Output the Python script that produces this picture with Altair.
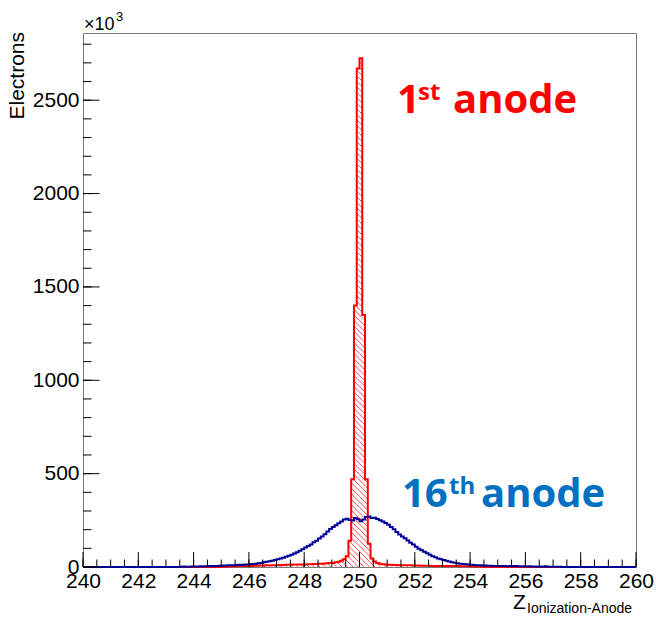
import math
import altair as alt
import pandas as pd

# ---------------- data ----------------
BIN_W = 0.1
X_MIN, X_MAX, Y_MAX = 240, 260, 2860

# 1st anode (red), bins of 0.1 starting at 244.9 (values in units of 10^3 electrons)
red_start = 244.9
red_vals = [1,
            2, 2, 3, 3, 4,
            4, 5, 5, 6, 6,
            6, 7, 7, 8, 8,
            8, 9, 9, 10, 10,
            10, 11, 11, 12, 12,
            12, 13, 13, 14, 14,
            14, 15, 15, 16, 16,
            17, 18, 19, 20, 21,
            22, 25, 28, 34, 42,
            58, 140, 470, 1400, 2670,
            2725, 1350, 470, 125, 45,
            30, 22, 18, 15, 13,
            12, 12, 11, 11, 10,
            10, 9, 9, 9, 8,
            8, 8, 7, 7, 7,
            7, 6, 6, 6, 6,
            6, 5, 5, 5, 5,
            5, 4, 4, 4, 4,
            3, 3, 3, 3, 2,
            2, 1]

# 16th anode (blue), bins of 0.1 starting at 243.5
blue_start = 243.5
blue_vals = [2, 3, 1, 2, 3,
             3, 2, 4, 3, 4,
             5, 4, 6, 5, 7,
             8, 7, 9, 10, 9,
             11, 12, 11, 13, 14,
             15, 16, 18, 20, 22,
             26, 28, 31, 34, 37,
             41, 45, 50, 55, 60,
             66, 72, 79, 87, 95,
             104, 112, 121, 132, 140,
             152, 164, 176, 190, 204,
             214, 224, 234, 244, 254,
             259, 252, 249, 262, 256,
             245, 254, 268, 271, 263,
             264, 257, 250, 244, 236,
             226, 214, 202, 188, 174,
             164, 154, 142, 130, 120,
             108, 98, 90, 82, 74,
             66, 58, 52, 46, 42,
             37, 33, 29, 26, 23,
             20, 18, 16, 15, 13,
             12, 11, 10, 9, 8,
             8, 7, 7, 6, 6,
             5, 6, 5, 4, 5,
             4, 5, 4, 3, 4,
             3, 4, 3, 3, 2,
             3, 2, 4, 2, 1,
             1, 2, 1, 0, 0]

x_major = [240, 242, 244, 246, 248, 250, 252, 254, 256, 258, 260]
x_minor = [240, 240.5, 241, 241.5, 242, 242.5, 243, 243.5, 244, 244.5, 245, 245.5,
           246, 246.5, 247, 247.5, 248, 248.5, 249, 249.5, 250, 250.5, 251, 251.5,
           252, 252.5, 253, 253.5, 254, 254.5, 255, 255.5, 256, 256.5, 257, 257.5,
           258, 258.5, 259, 259.5, 260]
y_major = [0, 500, 1000, 1500, 2000, 2500]
y_minor = [0, 100, 200, 300, 400, 500, 600, 700, 800, 900, 1000, 1100, 1200, 1300,
           1400, 1500, 1600, 1700, 1800, 1900, 2000, 2100, 2200, 2300, 2400, 2500,
           2600, 2700, 2800]

# ---------------- layout ----------------
W, H = 553, 534
PAD = {"left": 83, "top": 33, "right": 20, "bottom": 50}

xs = alt.Scale(domain=[X_MIN, X_MAX], nice=False, zero=False)
ys = alt.Scale(domain=[0, Y_MAX], nice=False, zero=False)


def hist_points(start, vals):
    rows = [{"x": float(X_MIN), "y": 0.0}]
    for i, v in enumerate(vals):
        rows.append({"x": round(start + i * BIN_W, 4), "y": float(v)})
    end = round(start + len(vals) * BIN_W, 4)
    rows.append({"x": end, "y": 0.0})
    rows.append({"x": float(X_MAX), "y": 0.0})
    return pd.DataFrame(rows)


# hatch ("\\" style) inside red bins, computed from the bins
def xpx(x):
    return (x - X_MIN) / (X_MAX - X_MIN) * W


def ypx(v):
    return H - v / Y_MAX * H


def xdat(p):
    return X_MIN + p / W * (X_MAX - X_MIN)


def ydat(p):
    return (H - p) / H * Y_MAX


SP = 5.5
segs = []
for i, v in enumerate(red_vals):
    x0 = red_start + i * BIN_W
    x1 = x0 + BIN_W
    p0, p1 = xpx(x0), xpx(x1)
    top = ypx(v)
    k0 = math.ceil((top - p1) / SP)
    k1 = math.floor((H - p0) / SP)
    for k in range(k0, k1 + 1):
        c = k * SP
        xa = max(p0, top - c)
        xb = min(p1, H - c)
        if xb > xa:
            segs.append({"x": xdat(xa), "y": ydat(xa + c), "x2": xdat(xb), "y2": ydat(xb + c)})
hatch_df = pd.DataFrame(segs)

x_axis = alt.Axis(values=x_major, format="d", title=None, ticks=False, tickSize=0,
                  domain=False, grid=False, labelFont="Liberation Sans", labelFontSize=21,
                  labelColor="black", labelPadding=3, labelOverlap=False,
                  labelFlush=False, labelBound=False)
y_axis = alt.Axis(values=y_major, format="d", title=None, ticks=False, tickSize=0,
                  domain=False, grid=False, labelFont="Liberation Sans", labelFontSize=21,
                  labelColor="black", labelPadding=4, labelOverlap=False,
                  labelFlush=False, labelBound=False)


def X(field):
    return alt.X(field, scale=xs, axis=x_axis)


def Y(field):
    return alt.Y(field, scale=ys, axis=y_axis)


hatch = alt.Chart(hatch_df).mark_rule(color="#ff2020", strokeWidth=1, opacity=0.8).encode(
    x=X("x:Q"), y=Y("y:Q"), x2="x2:Q", y2="y2:Q",
)

red_line = alt.Chart(hist_points(red_start, red_vals)).mark_line(
    interpolate="step-after", color="#ff0000", strokeWidth=2).encode(
    x=X("x:Q"), y=Y("y:Q"),
)

blue_line = alt.Chart(hist_points(blue_start, blue_vals)).mark_line(
    interpolate="step-after", color="#000099", strokeWidth=2).encode(
    x=X("x:Q"), y=Y("y:Q"),
)


def xticks(vals, length):
    return alt.Chart(pd.DataFrame({"x": vals})).mark_rule(color="black", strokeWidth=1).encode(
        x=X("x:Q"), y=alt.value(H), y2=alt.value(H - length))


def yticks(vals, length):
    return alt.Chart(pd.DataFrame({"y": vals})).mark_rule(color="black", strokeWidth=1).encode(
        y=Y("y:Q"), x=alt.value(0), x2=alt.value(length))


def label(txt, x, y, size, color, weight="normal", font="Open Sans", angle=0, align="left"):
    return alt.Chart(pd.DataFrame({"t": [txt]})).mark_text(
        font=font, fontSize=size, fontWeight=weight, color=color, align=align,
        baseline="alphabetic", angle=angle).encode(
        x=alt.value(x), y=alt.value(y), text="t:N")


OX, OY = PAD["left"], PAD["top"]
texts = [
    label("1", 397 - OX, 113 - OY, 40, "#ff0000", "bold"),
    label("st", 418 - OX, 100 - OY, 24, "#ff0000", "bold"),
    label("anode", 453 - OX, 113 - OY, 40, "#ff0000", "bold"),
    label("16", 402 - OX, 507 - OY, 40, "#0070C0", "bold"),
    label("th", 449 - OX, 494 - OY, 24, "#0070C0", "bold"),
    label("anode", 481 - OX, 507 - OY, 40, "#0070C0", "bold"),
    label("Z", 513 - OX, 609 - OY, 21, "black", font="Liberation Sans"),
    label("Ionization-Anode", 527 - OX, 613 - OY, 14, "black", font="Liberation Sans"),
    label("Electrons", 24 - OX, 32 - OY, 21, "black", font="Liberation Sans", angle=270, align="right"),
    label("\u00d710", 84 - OX, 30 - OY, 18, "black", font="Liberation Sans"),
    label("3", 116 - OX, 21 - OY, 13, "black", font="Liberation Sans"),
]

chart = alt.layer(
    hatch, red_line, blue_line,
    xticks(x_minor, 7.5), xticks(x_major, 15),
    yticks(y_minor, 8.5), yticks(y_major, 16.5),
    *texts,
).properties(
    width=W, height=H, padding=PAD,
    autosize=alt.AutoSizeParams(type="none"),
    background="white",
).configure_view(stroke="#777777", strokeWidth=1)

chart.save("out.html", embed_options={"renderer": "svg", "actions": False})
